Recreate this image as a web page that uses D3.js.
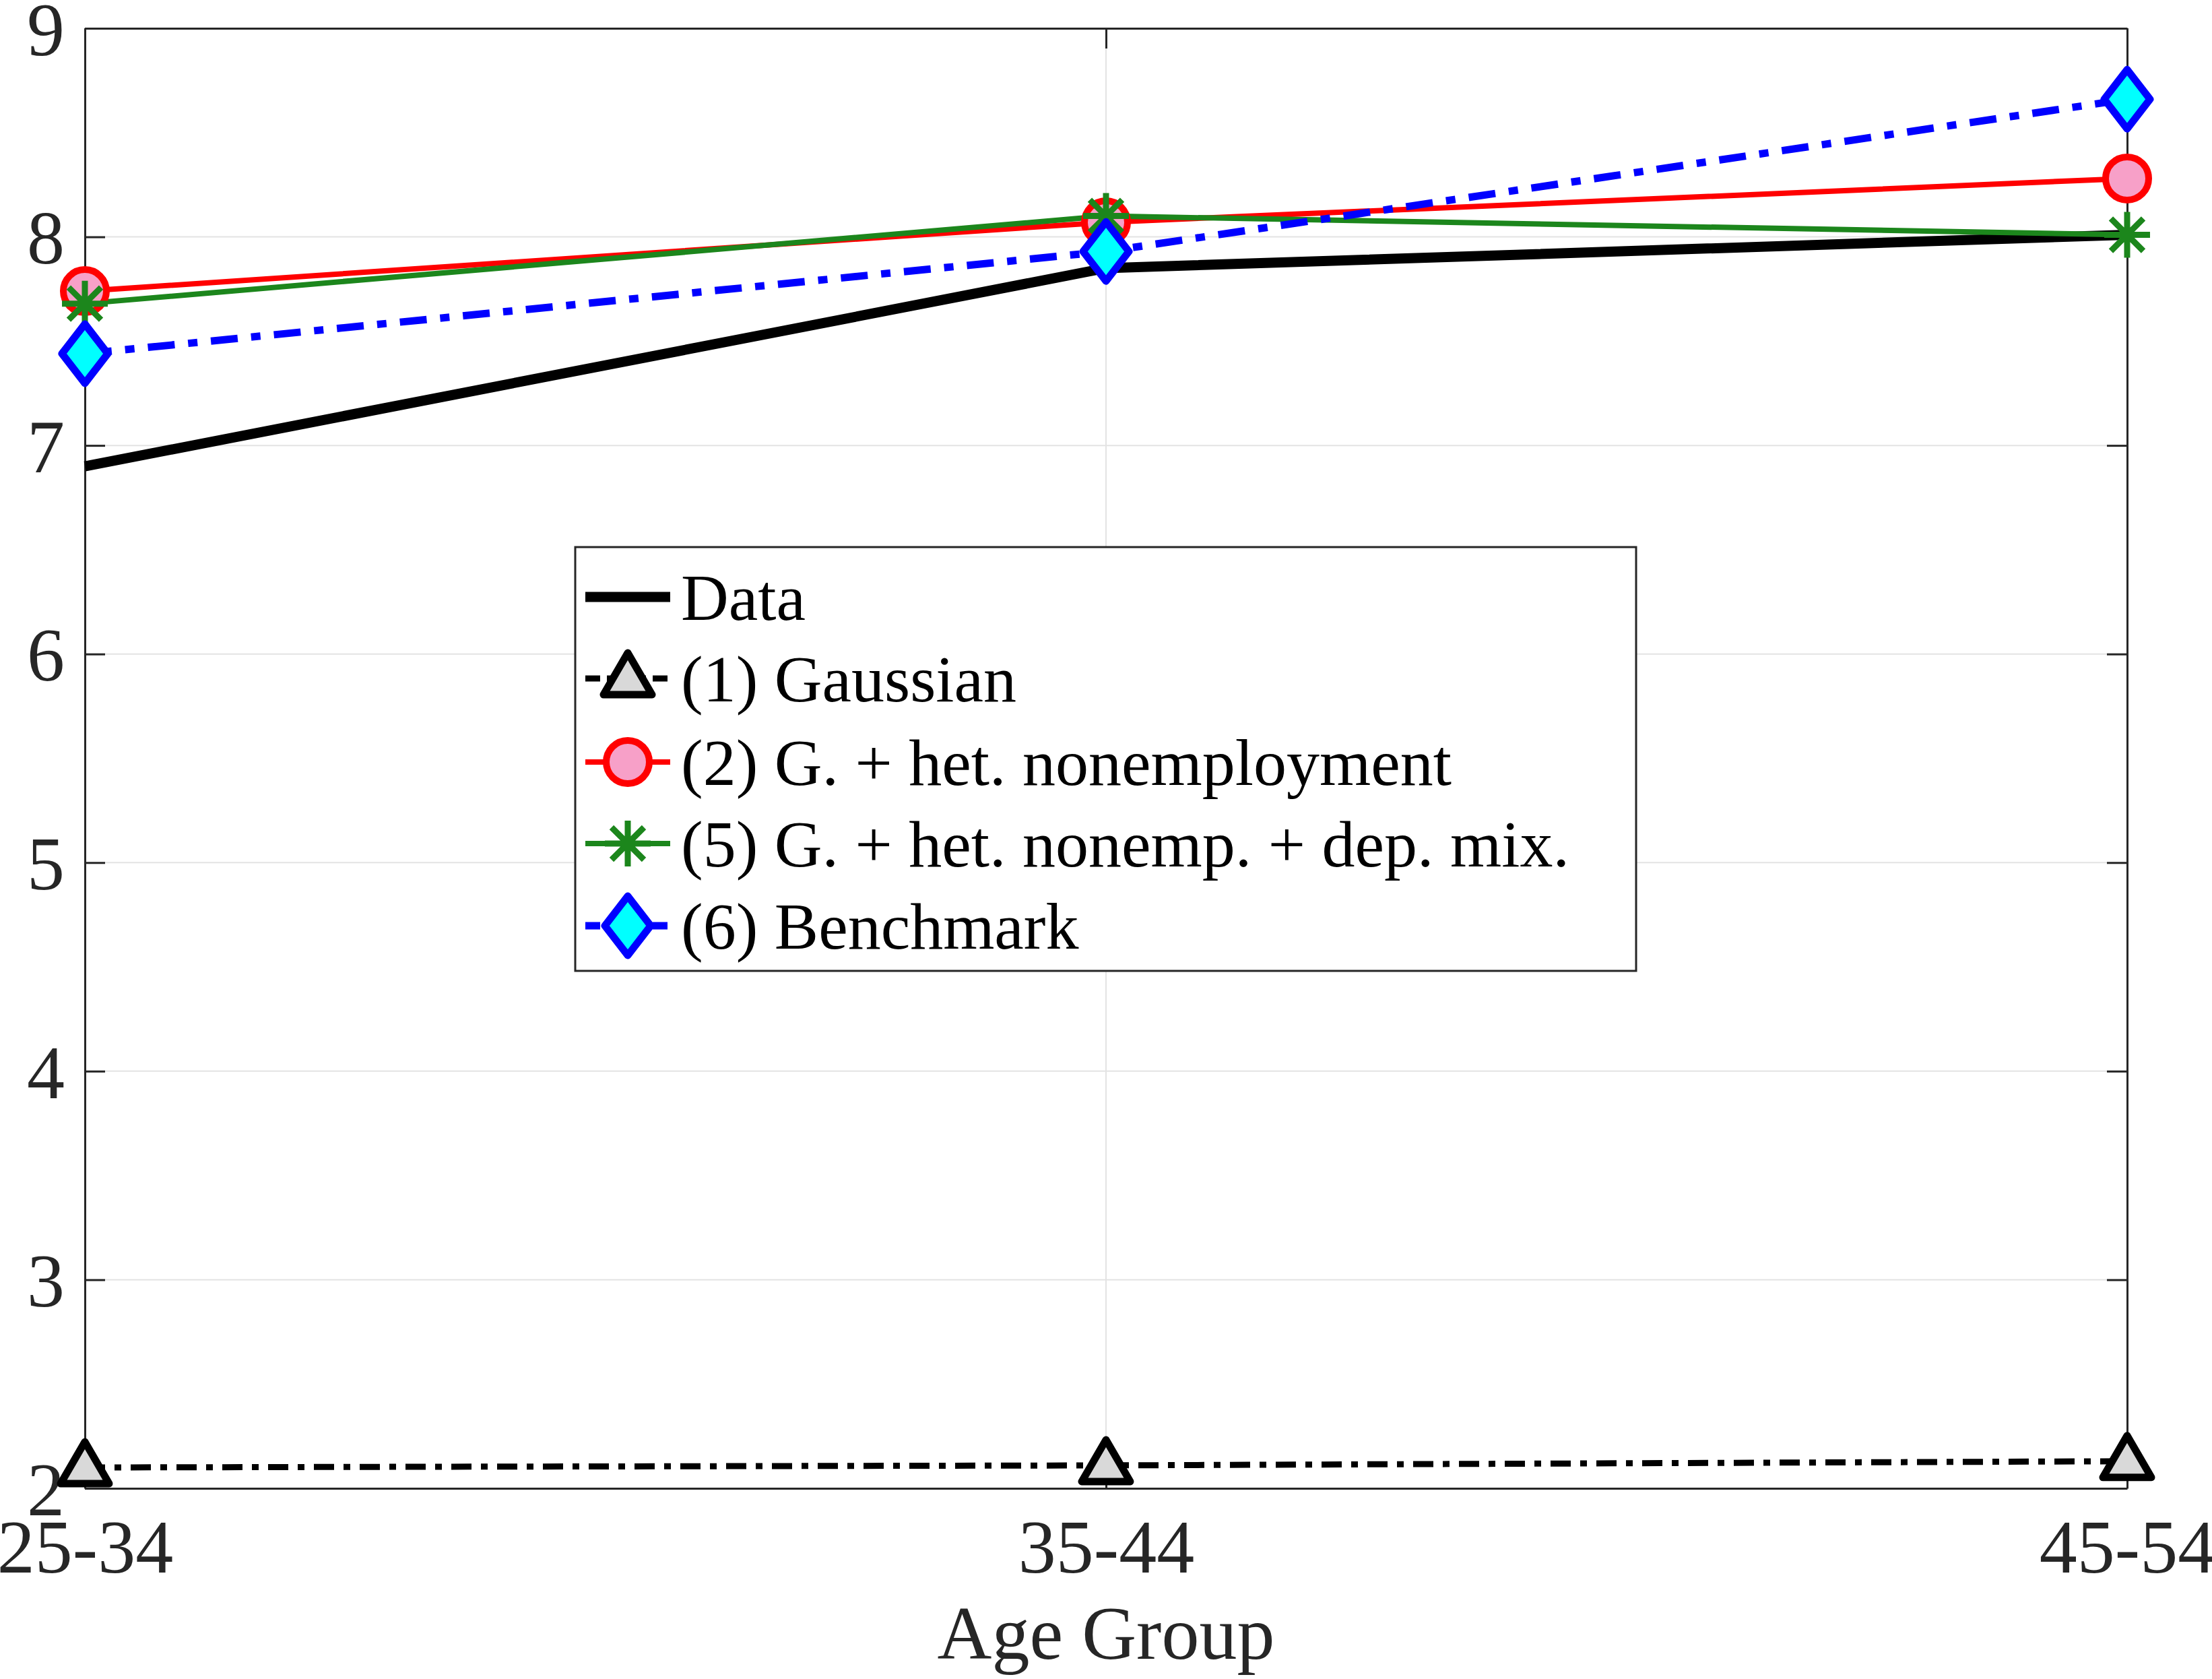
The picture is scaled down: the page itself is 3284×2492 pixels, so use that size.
<!DOCTYPE html>
<html><head><meta charset="utf-8">
<script src="https://cdn.jsdelivr.net/npm/d3@7"></script>
<style>body{margin:0;background:#fff}</style></head>
<body><svg id="c" width="3284" height="2492"></svg>
<script>
const categories = ["25-34","35-44","45-54"];
const yTicks = [2,3,4,5,6,7,8,9];
const dataVals = [6.90,7.85,8.01];
const gaussVals = [2.10,2.11,2.13];
const hetVals = [7.74,8.07,8.28];
const mixVals = [7.68,8.10,8.01];
const benchVals = [7.44,7.93,8.66];
const labels = ["Data","(1) Gaussian","(2) G. + het. nonemployment","(5) G. + het. nonemp. + dep. mix.","(6) Benchmark"];

const L=126,R=3158,T=42,B=2209;
const svg=d3.select("#c");
const x=d3.scalePoint().domain(categories).range([L,R]);
const y=d3.scaleLinear().domain([2,9]).range([B,T]);
const font="Liberation Serif, Times New Roman, serif";

svg.append("g").selectAll("line").data(yTicks).join("line")
 .attr("x1",L).attr("x2",R).attr("y1",d=>y(d)).attr("y2",d=>y(d)).attr("stroke","#e3e3e3").attr("stroke-width",2);
svg.append("g").selectAll("line").data(categories).join("line")
 .attr("x1",d=>x(d)).attr("x2",d=>x(d)).attr("y1",T).attr("y2",B).attr("stroke","#e3e3e3").attr("stroke-width",2);

const yl=svg.append("g").attr("transform",`translate(${L},0)`).call(d3.axisLeft(y).tickValues(yTicks).tickFormat(d3.format("d")).tickSizeInner(-30).tickSizeOuter(0).tickPadding(30));
const yr=svg.append("g").attr("transform",`translate(${R},0)`).call(d3.axisRight(y).tickValues(yTicks).tickSizeInner(-30).tickSizeOuter(0).tickFormat(""));
const xb=svg.append("g").attr("transform",`translate(0,${B})`).call(d3.axisBottom(x).tickSizeInner(-30).tickSizeOuter(0).tickPadding(45));
const xt=svg.append("g").attr("transform",`translate(0,${T})`).call(d3.axisTop(x).tickSizeInner(-30).tickSizeOuter(0).tickFormat(""));
[yl,yr,xb,xt].forEach(g=>{g.selectAll("path,line").attr("stroke","#262626").attr("stroke-width",3);
 g.selectAll("text").attr("font-family",font).attr("font-size",112).attr("fill","#262626");});
yl.selectAll("text").attr("dy","0.35em");
xb.selectAll("text").attr("dy","0.71em");
svg.append("text").attr("x",(L+R)/2).attr("y",2462).attr("text-anchor","middle").attr("font-family",font).attr("font-size",112).attr("fill","#262626").text("Age Group");

const series=[
 {vals:dataVals,color:"#000",w:15,dash:null,marker:null},
 {vals:gaussVals,color:"#000",w:9,dash:"30,14,10,14",marker:"tri",fill:"#d9d9d9"},
 {vals:hetVals,color:"#ff0000",w:8,dash:null,marker:"circle",fill:"#f7a0c8"},
 {vals:mixVals,color:"#1c861c",w:8,dash:null,marker:"star"},
 {vals:benchVals,color:"#0000ff",w:11,dash:"40,20,14,20",marker:"diamond",fill:"#00ffff"}
];
const line=d3.line().x((d,i)=>x(categories[i])).y(d=>y(d));
function marker(g,type,s,cx,cy){
 if(type==="tri"){g.append("path").attr("d",`M${cx},${cy-38}L${cx+36},${cy+24}L${cx-36},${cy+24}Z`).attr("fill",s.fill).attr("stroke","#000").attr("stroke-width",11).attr("stroke-linejoin","round");}
 if(type==="circle"){g.append("circle").attr("cx",cx).attr("cy",cy).attr("r",32).attr("fill",s.fill).attr("stroke",s.color).attr("stroke-width",10);}
 if(type==="diamond"){g.append("path").attr("d",`M${cx},${cy-44}L${cx+34},${cy}L${cx},${cy+44}L${cx-34},${cy}Z`).attr("fill",s.fill).attr("stroke",s.color).attr("stroke-width",11).attr("stroke-linejoin","round");}
 if(type==="star"){const r=34;let d="";for(let k=0;k<4;k++){const a=k*Math.PI/4;d+=`M${cx-r*Math.sin(a)},${cy-r*Math.cos(a)}L${cx+r*Math.sin(a)},${cy+r*Math.cos(a)}`;}
  g.append("path").attr("d",d).attr("stroke",s.color).attr("stroke-width",9);}
}
series.forEach(s=>{
 svg.append("path").datum(s.vals).attr("d",line).attr("fill","none").attr("stroke",s.color).attr("stroke-width",s.w).attr("stroke-dasharray",s.dash);
});
series.forEach(s=>{ if(!s.marker) return; const g=svg.append("g");
 s.vals.forEach((v,i)=>marker(g,s.marker,s,x(categories[i]),y(v)));});

const lg=svg.append("g");
lg.append("rect").attr("x",854).attr("y",812).attr("width",1575).attr("height",629).attr("fill","#fff").attr("stroke","#262626").attr("stroke-width",3);
const rows=[886,1007,1131,1252,1374];
series.forEach((s,i)=>{
 const cy=rows[i];
 lg.append("line").attr("x1",869).attr("x2",995).attr("y1",cy).attr("y2",cy).attr("stroke",s.color).attr("stroke-width",s.w).attr("stroke-dasharray",s.dash?"22,10,8,10":null);
 if(s.marker) marker(lg,s.marker,s,932,cy);
 lg.append("text").attr("x",1011).attr("y",cy).attr("dy","0.35em").attr("font-family",font).attr("font-size",98).attr("fill","#000").text(labels[i]);
});
</script></body></html>
